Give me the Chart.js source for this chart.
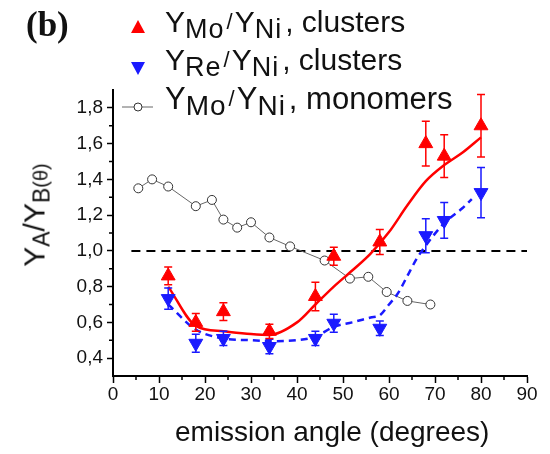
<!DOCTYPE html>
<html lang="en">
<head>
  <meta charset="UTF-8" />
  <title>Yield ratio vs emission angle</title>
  <script src="https://cdn.jsdelivr.net/npm/chart.js"></script>
  <style>
    * { margin: 0; padding: 0; box-sizing: border-box; }
    body {
      background: #fff;
      width: 550px;
      height: 454px;
      overflow: hidden;
      font-family: "Liberation Sans", Arial, sans-serif;
      color: #111;
    }
    .wrap { position: relative; width: 550px; height: 454px; }
    canvas { display: block; }
    .tag {
      position: absolute; left: 26px; top: 7px;
      font: bold 35px "Liberation Serif", serif; line-height: 35px;
    }
    .row {
      position: absolute; left: 165px;
      white-space: nowrap; font-size: 30px; line-height: 30px;
    }
    .row.big { font-size: 31px; line-height: 31px; }
    .row svg { position: absolute; }
    .sub { font-size: 27px; position: relative; top: 6px; letter-spacing: 1px; }
    .big .sub { font-size: 28px; }
    .sl { font-size: 22px; position: relative; top: -3px; margin: 0 2px; }
    .rest { margin-left: 3px; }
    .ytitle {
      position: absolute; left: 36px; top: 215px; width: 0; height: 0;
    }
    .ytitle div {
      position: absolute; white-space: nowrap; font-size: 30px; line-height: 30px;
      transform: translate(-50%, -50%) rotate(-90deg);
    }
    .ytitle .s { font-size: 23px; position: relative; top: 5px; }
    .ytitle .t { font-size: 20px; position: relative; top: 3px; }
    .xtitle {
      position: absolute; left: 175px; top: 418px;
      font-size: 28px; line-height: 28px; white-space: nowrap;
    }
  </style>
</head>
<body>
  <div class="wrap">
    <canvas id="chart"></canvas>
    <div class="tag">(b)</div>
    <div class="row" style="top:7px">
      <svg width="16" height="16" style="left:-35px;top:12px"><polygon points="8,1 15,14 1,14" fill="#ff0000"/></svg>
      <span>Y</span><span class="sub">Mo</span><span class="sl">/</span><span>Y</span><span class="sub">Ni</span><span class="rest">, clusters</span>
    </div>
    <div class="row" style="top:45px">
      <svg width="16" height="16" style="left:-35px;top:15px"><polygon points="1,2 15,2 8,15" fill="#1a1aff"/></svg>
      <span>Y</span><span class="sub">Re</span><span class="sl">/</span><span>Y</span><span class="sub">Ni</span><span class="rest">, clusters</span>
    </div>
    <div class="row big" style="top:83px">
      <svg width="32" height="12" style="left:-43px;top:18px"><line x1="0" y1="6" x2="31" y2="6" stroke="#666" stroke-width="1"/><circle cx="16" cy="6" r="4" fill="#fff" stroke="#333" stroke-width="1"/></svg>
      <span>Y</span><span class="sub">Mo</span><span class="sl">/</span><span>Y</span><span class="sub">Ni</span><span class="rest">, monomers</span>
    </div>
    <div class="ytitle"><div>Y<span class="s">A</span>/Y<span class="s">B</span><span class="t">(θ)</span></div></div>
    <div class="xtitle">emission angle (degrees)</div>
  </div>

  <script>
    const xTicks = [0, 10, 20, 30, 40, 50, 60, 70, 80, 90];
    const xMinor = [5, 15, 25, 35, 45, 55, 65, 75, 85];
    const yTicks = [0.4, 0.6, 0.8, 1.0, 1.2, 1.4, 1.6, 1.8];
    const yMinor = [0.5, 0.7, 0.9, 1.1, 1.3, 1.5, 1.7];

    // cluster measurements
    const clusterAngle = [12, 18, 24, 34, 44, 48, 58, 68, 72, 80];
    const moClusters = [0.86, 0.60, 0.66, 0.55, 0.745, 0.97, 1.05, 1.60, 1.53, 1.70];
    const moErr = [0.05, 0.05, 0.05, 0.04, 0.08, 0.05, 0.07, 0.125, 0.12, 0.175];
    const reClusters = [0.733, 0.483, 0.51, 0.465, 0.51, 0.595, 0.567, 1.085, 1.17, 1.326];
    const reErr = [0.06, 0.05, 0.04, 0.04, 0.04, 0.05, 0.04, 0.095, 0.1, 0.14];

    // monomers
    const monoAngle = [5.5, 8.5, 12, 18, 21.5, 24, 27, 30, 34, 38.5, 46, 51.5, 55.5, 59.5, 64, 69];
    const monoRatio = [1.35, 1.40, 1.36, 1.25, 1.285, 1.175, 1.13, 1.16, 1.075, 1.025, 0.946, 0.845, 0.855, 0.77, 0.72, 0.70];

    // guide curves
    const moFitAngle = [12, 18, 24, 30, 34, 40, 44, 48, 52, 56, 60, 64, 68, 72, 76, 80];
    const moFit = [0.80, 0.58, 0.55, 0.535, 0.53, 0.60, 0.70, 0.80, 0.89, 0.985, 1.105, 1.255, 1.39, 1.48, 1.55, 1.635];
    const reFitAngle = [12, 18, 24, 30, 34, 40, 44, 48, 52, 56, 58, 60, 62, 64, 66, 68, 72, 76, 78];
    const reFit = [0.70, 0.56, 0.51, 0.50, 0.495, 0.50, 0.52, 0.575, 0.60, 0.627, 0.64, 0.70, 0.765, 0.86, 0.955, 1.03, 1.155, 1.24, 1.29];

    const refAngle = [4, 90];
    const refRatio = [1, 1];

    const pts = (xs, ys) => xs.map((x, i) => ({ x: x, y: ys[i] }));
    const RED = '#ff0000';
    const BLUE = '#1a1aff';

    const errorBars = {
      id: 'errorBars',
      beforeDatasetDraw(chart, args) {
        const ds = chart.data.datasets[args.index];
        if (!ds.errors) return;
        const ctx = chart.ctx;
        const y = chart.scales.y;
        ctx.save();
        ctx.strokeStyle = ds.borderColor;
        ctx.lineWidth = 1.5;
        args.meta.data.forEach((p, i) => {
          const v = ds.data[i].y, e = ds.errors[i];
          const top = y.getPixelForValue(v + e);
          const bot = y.getPixelForValue(v - e);
          ctx.beginPath();
          ctx.moveTo(p.x, top); ctx.lineTo(p.x, bot);
          ctx.moveTo(p.x - 4, top); ctx.lineTo(p.x + 4, top);
          ctx.moveTo(p.x - 4, bot); ctx.lineTo(p.x + 4, bot);
          ctx.stroke();
        });
        ctx.restore();
      }
    };

    const minorTicks = {
      id: 'minorTicks',
      afterDraw(chart) {
        const { ctx, chartArea, scales: { x, y } } = chart;
        ctx.save();
        ctx.strokeStyle = '#000';
        ctx.lineWidth = 1.5;
        ctx.beginPath();
        xMinor.forEach(v => {
          const px = x.getPixelForValue(v);
          ctx.moveTo(px, chartArea.bottom); ctx.lineTo(px, chartArea.bottom + 4);
        });
        yMinor.forEach(v => {
          const py = y.getPixelForValue(v);
          ctx.moveTo(chartArea.left - 4, py); ctx.lineTo(chartArea.left, py);
        });
        ctx.stroke();
        ctx.restore();
      }
    };

    Chart.defaults.font.family = '"Liberation Sans", Arial, sans-serif';
    Chart.defaults.color = '#111';

    new Chart(document.getElementById('chart'), {
      type: 'scatter',
      data: {
        datasets: [
          {
            data: pts(clusterAngle, moClusters), errors: moErr,
            pointStyle: 'triangle', pointRadius: 8,
            backgroundColor: RED, borderColor: RED, borderWidth: 1, order: 1
          },
          {
            data: pts(clusterAngle, reClusters), errors: reErr,
            pointStyle: 'triangle', rotation: 180, pointRadius: 8,
            backgroundColor: BLUE, borderColor: BLUE, borderWidth: 1, order: 2
          },
          {
            data: pts(moFitAngle, moFit), showLine: true, pointRadius: 0,
            borderColor: RED, borderWidth: 2.5, cubicInterpolationMode: 'monotone', order: 3
          },
          {
            data: pts(reFitAngle, reFit), showLine: true, pointRadius: 0,
            borderColor: BLUE, borderWidth: 2.5, borderDash: [7, 5],
            cubicInterpolationMode: 'monotone', order: 3
          },
          {
            data: pts(monoAngle, monoRatio), showLine: true,
            borderColor: '#666', borderWidth: 1,
            pointRadius: 4.5, pointBackgroundColor: '#fff',
            pointBorderColor: '#333', pointBorderWidth: 1, order: 4
          },
          {
            data: pts(refAngle, refRatio), showLine: true, pointRadius: 0,
            borderColor: '#000', borderWidth: 2, borderDash: [9, 6], order: 5
          }
        ]
      },
      options: {
        responsive: true,
        maintainAspectRatio: false,
        animation: false,
        events: [],
        layout: { padding: { top: 90, right: 23, bottom: 0, left: 0 } },
        plugins: { legend: { display: false }, tooltip: { enabled: false } },
        scales: {
          x: {
            type: 'linear', min: 0, max: 90,
            afterBuildTicks: s => { s.ticks = xTicks.map(v => ({ value: v })); },
            afterFit: s => { s.height = 78; },
            grid: { drawOnChartArea: false, tickLength: 7, tickColor: '#000', tickWidth: 1.5 },
            border: { color: '#000', width: 2 },
            ticks: { font: { size: 19 }, padding: 0, maxRotation: 0 }
          },
          y: {
            type: 'linear', min: 0.3, max: 1.9,
            afterBuildTicks: s => { s.ticks = yTicks.map(v => ({ value: v })); },
            afterFit: s => { s.width = 113; },
            grid: { drawOnChartArea: false, tickLength: 6, tickColor: '#000', tickWidth: 1.5 },
            border: { color: '#000', width: 2 },
            ticks: {
              font: { size: 19 }, padding: 4,
              callback: v => v.toFixed(1).replace('.', ',')
            }
          }
        }
      },
      plugins: [errorBars, minorTicks]
    });
  </script>
</body>
</html>
